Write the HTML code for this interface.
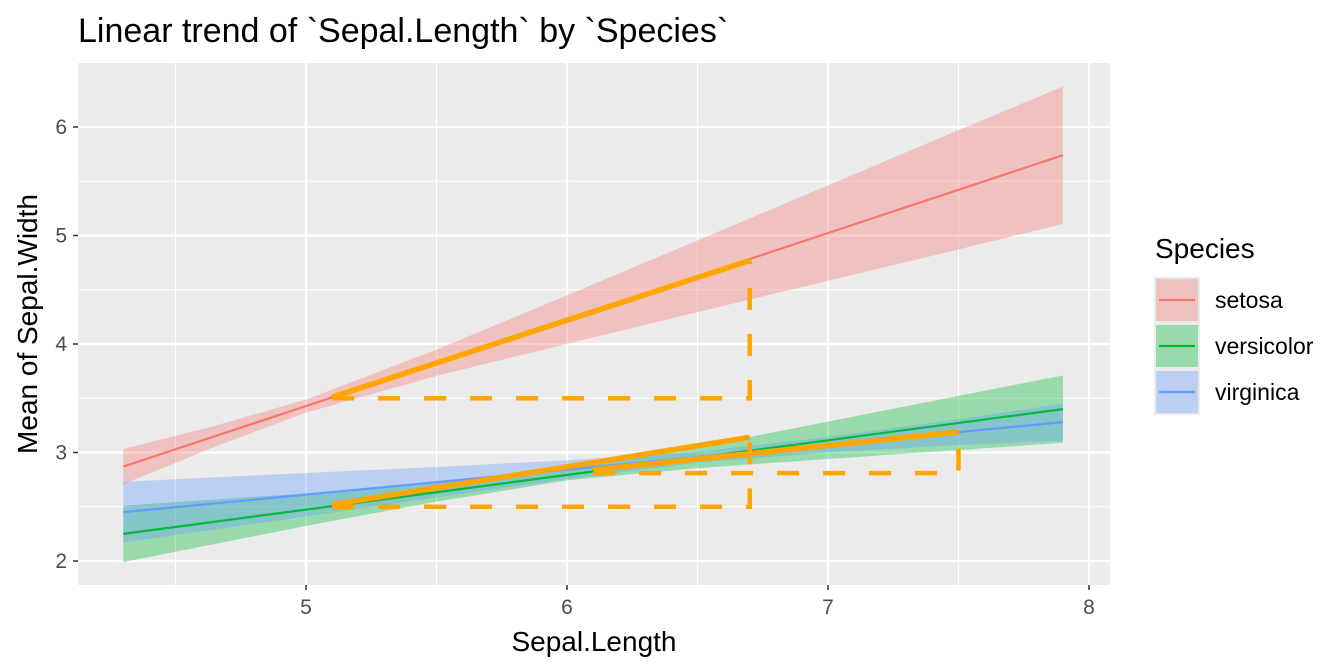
<!DOCTYPE html>
<html><head><meta charset="utf-8"><style>
body{margin:0;background:#fff}
svg{display:block;font-family:"Liberation Sans",sans-serif}
</style></head><body>
<svg id="c" width="1344" height="672" viewBox="0 0 1344 672">
<rect x="0" y="0" width="1344" height="672" fill="#fff"/>
<text x="78" y="42" font-size="34" fill="#000">Linear trend of `Sepal.Length` by `Species`</text>
<rect x="78" y="63" width="1032" height="522" fill="#ebebeb"/>
<g id="grid"></g>
<g id="ribbons"></g>
<g id="lines"></g>
<g id="orange"></g>
<g id="axes"></g>
<text x="594" y="651" font-size="28" text-anchor="middle" fill="#000">Sepal.Length</text>
<text transform="translate(37,324) rotate(-90)" font-size="28" text-anchor="middle" fill="#000">Mean of Sepal.Width</text>
<g id="legend">
<text x="1155" y="258" font-size="28" fill="#000">Species</text>
</g>
</svg>
<script>
const species=["setosa","versicolor","virginica"];
const colors=["#F8766D","#00BA38","#619CFF"];
const fills=["rgba(248,118,109,0.35)","rgba(0,186,56,0.35)","rgba(97,156,255,0.35)"];
const xRange=[4.3,7.9];
const lineStart=[2.87,2.25,2.45];
const lineEnd=[5.74,3.40,3.28];
const bandX=[4.3,4.65,5.0,5.5,6.0,6.5,7.0,7.5,7.9];
const halfSetosa=[0.163,0.096,0.06,0.121,0.224,0.33,0.44,0.55,0.633];
const halfVersicolor=[0.26,0.205,0.15,0.086,0.05,0.097,0.172,0.25,0.31];
const halfVirginica=[0.28,0.24,0.2,0.14,0.087,0.05,0.07,0.12,0.17];
const halfWidths=[halfSetosa,halfVersicolor,halfVirginica];
const segX0=[5.1,5.1,6.1];
const segX1=[6.7,6.7,7.5];
const segY0=[3.51,2.52,2.84];
const segY1=[4.77,3.14,3.19];
const baseY=[3.5,2.5,2.81];
const xTicks=[5,6,7,8];
const yTicks=[2,3,4,5,6];
const xMinor=[4.5,5.5,6.5,7.5];
const yMinor=[2.5,3.5,4.5,5.5];
const X=v=>306+(v-5)*261;
const Y=v=>561-(v-2)*108.5;
const NS="http://www.w3.org/2000/svg";
function mk(p,t,a){const e=document.createElementNS(NS,t);for(const k in a)e.setAttribute(k,a[k]);p.appendChild(e);return e;}
const grid=document.getElementById('grid');
xMinor.forEach(v=>{const e=mk(grid,'line',{x1:X(v),x2:X(v),y1:63,y2:585,stroke:'#fff','stroke-width':1});

});
yMinor.forEach(v=>{const e=mk(grid,'line',{x1:78,x2:1110,y1:Y(v),y2:Y(v),stroke:'#fff','stroke-width':1});

});
xTicks.forEach(v=>{const e=mk(grid,'line',{x1:X(v),x2:X(v),y1:63,y2:585,stroke:'#fff','stroke-width':2.2});

});
yTicks.forEach(v=>{const e=mk(grid,'line',{x1:78,x2:1110,y1:Y(v),y2:Y(v),stroke:'#fff','stroke-width':2.2});

});
const rib=document.getElementById('ribbons'),ln=document.getElementById('lines'),og=document.getElementById('orange');
species.forEach((s,i)=>{
const fit=x=>lineStart[i]+(lineEnd[i]-lineStart[i])*(x-xRange[0])/(xRange[1]-xRange[0]);
const up=bandX.map((x,k)=>`${X(x)},${Y(fit(x)+halfWidths[i][k])}`);
const dn=bandX.map((x,k)=>`${X(x)},${Y(fit(x)-halfWidths[i][k])}`).reverse();
const r=mk(rib,'polygon',{points:up.concat(dn).join(' '),fill:fills[i]});


const l=mk(ln,'line',{x1:X(xRange[0]),y1:Y(lineStart[i]),x2:X(xRange[1]),y2:Y(lineEnd[i]),stroke:colors[i],'stroke-width':2.2});


const d=mk(og,'polyline',{points:`${X(segX0[i])},${Y(baseY[i])} ${X(segX1[i])},${Y(baseY[i])} ${X(segX1[i])},${Y(segY1[i])}`,fill:'none',stroke:'#FFA500','stroke-width':4.5,'stroke-dasharray':'22 24'});


const o=mk(og,'line',{x1:X(segX0[i]),y1:Y(segY0[i]),x2:X(segX1[i]),y2:Y(segY1[i]),stroke:'#FFA500','stroke-width':5.5});


});
const ax=document.getElementById('axes');
xTicks.forEach(v=>{const t=mk(ax,'line',{x1:X(v),x2:X(v),y1:585,y2:590,stroke:'#333','stroke-width':1.5});


const tx=mk(ax,'text',{x:X(v),y:614,'font-size':21,'text-anchor':'middle',fill:'#4d4d4d'});tx.textContent=v;

});
yTicks.forEach(v=>{const t=mk(ax,'line',{x1:73,x2:78,y1:Y(v),y2:Y(v),stroke:'#333','stroke-width':1.5});


const tx=mk(ax,'text',{x:67,y:Y(v)+7,'font-size':21,'text-anchor':'end',fill:'#4d4d4d'});tx.textContent=v;

});
const lg=document.getElementById('legend');
species.forEach((s,i)=>{const y=277+i*46;
const b=mk(lg,'rect',{x:1154,y:y,width:46,height:46,fill:'#ebebeb'});


const f=mk(lg,'rect',{x:1156,y:y+2,width:42,height:42,fill:fills[i]});


const l=mk(lg,'line',{x1:1159,x2:1195,y1:y+23,y2:y+23,stroke:colors[i],'stroke-width':2.2});


const t=mk(lg,'text',{x:1215,y:y+31,'font-size':23,fill:'#000'});t.textContent=s;

});
</script>
</body></html>
